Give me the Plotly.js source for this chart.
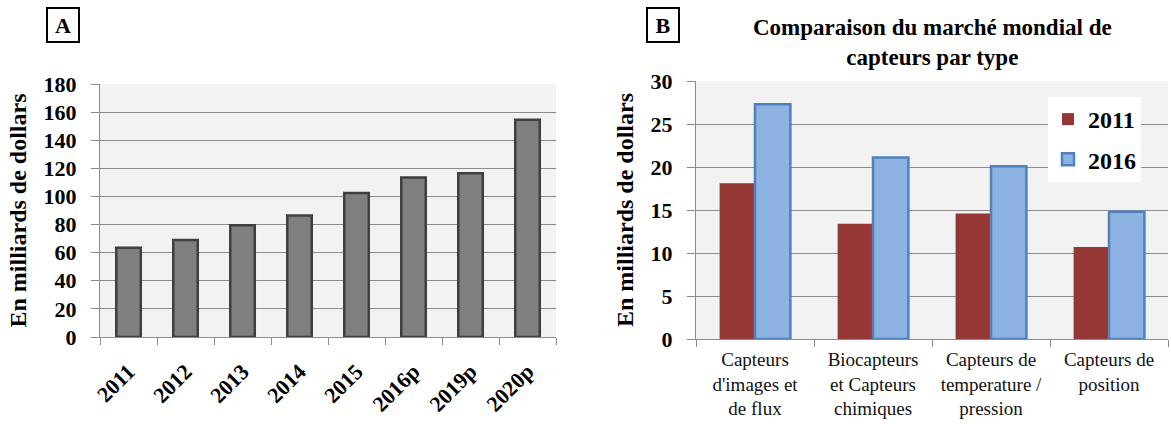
<!DOCTYPE html>
<html>
<head>
<meta charset="utf-8">
<script src="https://cdn.plot.ly/plotly-3.0.1.min.js"></script>
<style>html,body{margin:0;padding:0;background:#fff;}#chart{width:1171px;height:424px;}</style>
</head>
<body>
<div id="chart"></div>
<script>
// Panel A data
const yearsA = ["2011", "2012", "2013", "2014", "2015", "2016p", "2019p", "2020p"];
const valuesA = [63.5, 69, 79.5, 86.5, 102.5, 113.5, 116.5, 154.5];

// Panel B data
const categoriesB = ["Capteurs<br>d'images et<br>de flux", "Biocapteurs<br>et Capteurs<br>chimiques", "Capteurs de<br>temperature /<br>pression", "Capteurs de<br>position"];
const values2011 = [18.1, 13.4, 14.6, 10.7];
const values2016 = [27.3, 21.1, 20.1, 14.8];
const seriesNames = ["2011", "2016"];

const SERIF = "Liberation Serif";
const gridCol = "#8c8c8c";

const traces = [
  {
    type: "bar", x: yearsA, y: valuesA, xaxis: "x", yaxis: "y",
    width: 0.43, showlegend: false, hoverinfo: "x+y",
    marker: {color: "#7f7f7f", line: {color: "#3f3f3f", width: 2.5}}
  },
  {
    type: "bar", name: seriesNames[0], x: categoriesB, y: values2011, xaxis: "x2", yaxis: "y2",
    legendgroup: "a",
    marker: {color: "#953735", line: {color: "#953735", width: 0}}
  },
  {
    type: "bar", name: seriesNames[1], x: categoriesB, y: values2016, xaxis: "x2", yaxis: "y2",
    legendgroup: "b",
    marker: {color: "#8db3e2", line: {color: "#4f81bd", width: 2.5}}
  }
];

const W = 1171, H = 424;
const px = v => v / W;
const py = v => (H - v) / H;

const yTickFont = {family: SERIF, size: 22, color: "#000", weight: "bold"};
const yTitleFont = {family: SERIF, size: 24, color: "#000", weight: "bold"};

const layout = {
  width: W, height: H,
  margin: {l: 0, r: 0, t: 0, b: 0},
  paper_bgcolor: "#fff",
  barmode: "group", bargap: 0.4, bargroupgap: 0,
  showlegend: true,
  legend: {
    x: px(1048), xanchor: "left", y: py(97), yanchor: "top",
    bgcolor: "#fff", borderwidth: 0,
    font: {family: SERIF, size: 24, color: "#000", weight: "bold"},
    itemwidth: 30, tracegroupgap: 6, traceorder: "grouped"
  },
  xaxis: {
    domain: [px(100), px(556)], anchor: "y", type: "category",
    tickson: "boundaries", ticks: "outside", ticklen: 7, tickcolor: gridCol,
    showline: true, linecolor: gridCol, linewidth: 1, showgrid: false,
    ticklabelstandoff: 12,
    tickangle: -45, tickfont: {family: SERIF, size: 22, color: "#000", weight: "bold"}
  },
  yaxis: {
    domain: [py(337), py(84)], anchor: "x", range: [0, 180], dtick: 20,
    showgrid: true, gridcolor: gridCol, gridwidth: 1, zeroline: false,
    showline: true, linecolor: gridCol, ticks: "outside", ticklen: 8, tickcolor: gridCol,
    ticklabelstandoff: 10,
    tickfont: yTickFont,
    title: {text: "En milliards de dollars", font: yTitleFont, standoff: 10}
  },
  xaxis2: {
    domain: [px(696), px(1168)], anchor: "y2", type: "category",
    tickson: "boundaries", ticks: "outside", ticklen: 7, tickcolor: gridCol,
    showline: true, linecolor: gridCol, linewidth: 1, showgrid: false,
    ticklabelstandoff: 3,
    tickangle: 0, tickfont: {family: SERIF, size: 19, color: "#111"}
  },
  yaxis2: {
    domain: [py(339), py(81)], anchor: "x2", range: [0, 30], dtick: 5,
    showgrid: true, gridcolor: gridCol, gridwidth: 1, zeroline: false,
    showline: true, linecolor: gridCol, ticks: "outside", ticklen: 8, tickcolor: gridCol,
    ticklabelstandoff: 10,
    tickfont: yTickFont,
    title: {text: "En milliards de dollars", font: yTitleFont, standoff: 10}
  },
  plot_bgcolor: "#f2f2f2",
  annotations: [
    {
      text: "A", xref: "paper", yref: "paper", x: px(63), y: py(25),
      xanchor: "center", yanchor: "middle", showarrow: false,
      width: 30, height: 32, borderwidth: 2, bordercolor: "#000", borderpad: 0, bgcolor: "#fff",
      font: {family: SERIF, size: 22, color: "#000", weight: "bold"}
    },
    {
      text: "B", xref: "paper", yref: "paper", x: px(663), y: py(25),
      xanchor: "center", yanchor: "middle", showarrow: false,
      width: 30, height: 32, borderwidth: 2, bordercolor: "#000", borderpad: 0, bgcolor: "#fff",
      font: {family: SERIF, size: 22, color: "#000", weight: "bold"}
    },
    {
      text: "Comparaison du marché mondial de<br>capteurs par type", xref: "paper", yref: "paper",
      x: px(932), y: py(42), xanchor: "center", yanchor: "middle", showarrow: false,
      font: {family: SERIF, size: 23, color: "#000", weight: "bold"}
    }
  ]
};

Plotly.newPlot("chart", traces, layout, {displayModeBar: false, staticPlot: true});
</script>
</body>
</html>
